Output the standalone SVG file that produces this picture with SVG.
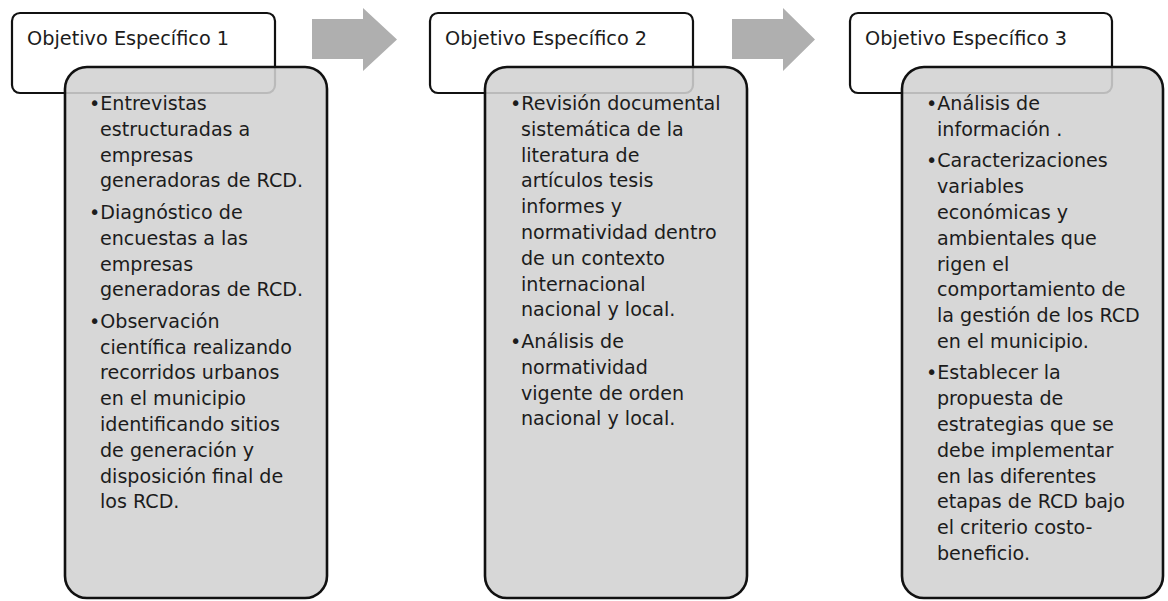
<svg xmlns="http://www.w3.org/2000/svg" width="1168" height="601" viewBox="0 0 1168 601">
<style>
.hdr{fill:#ffffff;stroke:#111;stroke-width:2.2}
.card{fill:#d2d2d2;fill-opacity:0.88;stroke:#111;stroke-width:2.6}
.arrow{fill:#afafaf}
.ht{font-family:"DejaVu Sans",sans-serif;font-size:19.3px;fill:#1c1c1c}
.bt{font-family:"DejaVu Sans",sans-serif;font-size:19.1px;fill:#1c1c1c}
</style>
<rect width="1168" height="601" fill="#ffffff"/>
<g id="connectors">
<polygon class="arrow" points="312,19 363,19 363,8 397,39.5 363,71 363,59 312,59"/>
<polygon class="arrow" points="732,19 783,19 783,8 815,39.5 783,71 783,59 732,59"/>
</g>
<g id="objetivo1">
<rect class="hdr" x="12" y="13" width="263" height="80" rx="8"/>
<text class="ht" x="27" y="45">Objetivo Específico 1</text>
<rect class="card" x="65" y="67" width="262" height="531" rx="22"/>
<text class="bt">
<tspan x="89" y="110">•Entrevistas</tspan>
<tspan x="100" y="135.8">estructuradas a</tspan>
<tspan x="100" y="161.6">empresas</tspan>
<tspan x="100" y="187.4">generadoras de RCD.</tspan>
<tspan x="89" y="218.9">•Diagnóstico de</tspan>
<tspan x="100" y="244.7">encuestas a las</tspan>
<tspan x="100" y="270.5">empresas</tspan>
<tspan x="100" y="296.3">generadoras de RCD.</tspan>
<tspan x="89" y="327.8">•Observación</tspan>
<tspan x="100" y="353.6">científica realizando</tspan>
<tspan x="100" y="379.4">recorridos urbanos</tspan>
<tspan x="100" y="405.2">en el municipio</tspan>
<tspan x="100" y="431">identificando sitios</tspan>
<tspan x="100" y="456.8">de generación y</tspan>
<tspan x="100" y="482.6">disposición final de</tspan>
<tspan x="100" y="508.4">los RCD.</tspan>
</text>
</g>
<g id="objetivo2">
<rect class="hdr" x="430" y="13" width="263" height="80" rx="8"/>
<text class="ht" x="445" y="45">Objetivo Específico 2</text>
<rect class="card" x="485" y="67" width="262" height="531" rx="22"/>
<text class="bt">
<tspan x="510" y="110">•Revisión documental</tspan>
<tspan x="521" y="135.8">sistemática de la</tspan>
<tspan x="521" y="161.6">literatura de</tspan>
<tspan x="521" y="187.4">artículos tesis</tspan>
<tspan x="521" y="213.2">informes y</tspan>
<tspan x="521" y="239">normatividad dentro</tspan>
<tspan x="521" y="264.8">de un contexto</tspan>
<tspan x="521" y="290.6">internacional</tspan>
<tspan x="521" y="316.4">nacional y local.</tspan>
<tspan x="510" y="347.9">•Análisis de</tspan>
<tspan x="521" y="373.7">normatividad</tspan>
<tspan x="521" y="399.5">vigente de orden</tspan>
<tspan x="521" y="425.3">nacional y local.</tspan>
</text>
</g>
<g id="objetivo3">
<rect class="hdr" x="850" y="13" width="262" height="80" rx="8"/>
<text class="ht" x="865" y="45">Objetivo Específico 3</text>
<rect class="card" x="902" y="67" width="261" height="531" rx="22"/>
<text class="bt">
<tspan x="926" y="110">•Análisis de</tspan>
<tspan x="937" y="135.8">información .</tspan>
<tspan x="926" y="167.3">•Caracterizaciones</tspan>
<tspan x="937" y="193.1">variables</tspan>
<tspan x="937" y="218.9">económicas y</tspan>
<tspan x="937" y="244.7">ambientales que</tspan>
<tspan x="937" y="270.5">rigen el</tspan>
<tspan x="937" y="296.3">comportamiento de</tspan>
<tspan x="937" y="322.1">la gestión de los RCD</tspan>
<tspan x="937" y="347.9">en el municipio.</tspan>
<tspan x="926" y="379.4">•Establecer la</tspan>
<tspan x="937" y="405.2">propuesta de</tspan>
<tspan x="937" y="431">estrategias que se</tspan>
<tspan x="937" y="456.8">debe implementar</tspan>
<tspan x="937" y="482.6">en las diferentes</tspan>
<tspan x="937" y="508.4">etapas de RCD bajo</tspan>
<tspan x="937" y="534.2">el criterio costo-</tspan>
<tspan x="937" y="560">beneficio.</tspan>
</text>
</g>
</svg>
